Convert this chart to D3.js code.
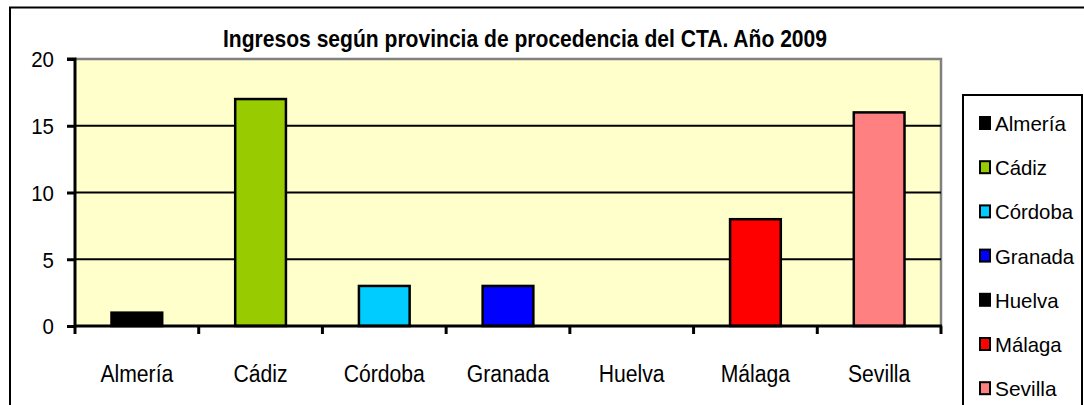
<!DOCTYPE html>
<html><head><meta charset="utf-8">
<script src="https://cdn.jsdelivr.net/npm/d3@7"></script>
<style>html,body{margin:0;padding:0;background:#fff;overflow:hidden}</style>
</head><body>
<svg id="c" width="1084" height="405"></svg>
<script>
const categories = ["Almería","Cádiz","Córdoba","Granada","Huelva","Málaga","Sevilla"];
const values = [1,17,3,3,0,8,16];
const yTicks = [0,5,10,15,20];
const barColors = ["#000000","#99CC00","#00CCFF","#0000FF","#000000","#FF0000","#FF8080"];
const title = "Ingresos según provincia de procedencia del CTA. Año 2009";

const svg = d3.select("#c");
const L = 75, R = 941, T = 59, B = 326;
const font = "Liberation Sans, Arimo, Arial, sans-serif";

function squeeze(sel, k){
  sel.each(function(){
    const w = this.getComputedTextLength();
    d3.select(this).attr("textLength", w*k).attr("lengthAdjust","spacingAndGlyphs");
  });
}

// outer border
svg.append("rect").attr("x",10).attr("y",7.5).attr("width",1200).attr("height",600)
  .attr("fill","#fff").attr("stroke","#000").attr("stroke-width",2);

const x = d3.scaleBand().domain(categories).range([L,R]).paddingInner(0.59).paddingOuter(0.295);
const y = d3.scaleLinear().domain([0,20]).range([B,T]);

svg.append("rect").attr("x",L).attr("y",T).attr("width",R-L).attr("height",B-T).attr("fill","#FFFFCC");
svg.append("path").attr("d",`M${L},${T}H${R}V${B}`).attr("fill","none").attr("stroke","#808080").attr("stroke-width",2.5);

svg.append("g").selectAll("line").data(yTicks.filter(d=>d>0 && d<20)).join("line")
  .attr("x1",L).attr("x2",R).attr("y1",d=>y(d)).attr("y2",d=>y(d))
  .attr("stroke","#000").attr("stroke-width",2);

svg.append("g").selectAll("rect").data(categories).join("rect")
  .attr("x",d=>x(d)).attr("width",x.bandwidth())
  .attr("y",(d,i)=>y(values[i])).attr("height",(d,i)=>y(0)-y(values[i]))
  .attr("fill",(d,i)=>barColors[i]).attr("stroke","#000").attr("stroke-width",2.5)
  .style("display",(d,i)=>values[i]>0?null:"none");

const yAxis = svg.append("g").attr("transform",`translate(${L},0)`)
  .call(d3.axisLeft(y).tickValues(yTicks).tickSize(8).tickPadding(13));
yAxis.attr("font-family",null).attr("font-size",null);
yAxis.select(".domain").attr("stroke-width",3).attr("d",`M-8,${T}H0V${B}`);
yAxis.selectAll(".tick line").attr("stroke-width",3);
yAxis.selectAll("text").attr("font-family",font).attr("font-size",22).attr("fill","#000").attr("dy","0.36em");
squeeze(yAxis.selectAll("text"), 0.93);

const step = x.step();
const xt = d3.range(categories.length+1).map(i=>L+i*step);
svg.append("line").attr("x1",L-1).attr("x2",R+1).attr("y1",B).attr("y2",B).attr("stroke","#000").attr("stroke-width",3);
svg.append("g").selectAll("line").data(xt).join("line")
  .attr("x1",d=>d).attr("x2",d=>d).attr("y1",B).attr("y2",B+8).attr("stroke","#000").attr("stroke-width",3);
const xl = svg.append("g").selectAll("text").data(categories).join("text")
  .attr("x",d=>x(d)+x.bandwidth()/2).attr("y",382)
  .attr("text-anchor","middle").attr("font-family",font).attr("font-size",23).attr("fill","#000")
  .text(d=>d);
squeeze(xl, 0.92);

svg.append("text").attr("x",525).attr("y",47).attr("text-anchor","middle")
  .attr("font-family","'Liberation Sans Narrow','Arial Narrow',Liberation Sans,Arial,sans-serif")
  .attr("font-weight","bold").attr("font-size",24)
  .attr("textLength",604).attr("lengthAdjust","spacingAndGlyphs")
  .text(title);

svg.append("rect").attr("x",963).attr("y",95).attr("width",119).attr("height",400)
  .attr("fill","#fff").attr("stroke","#000").attr("stroke-width",2);
const lg = svg.append("g").selectAll("g").data(categories).join("g")
  .attr("transform",(d,i)=>`translate(0,${123 + i*44.2})`);
lg.append("rect").attr("x",980).attr("y",-6).attr("width",10).attr("height",12)
  .attr("fill",(d,i)=>barColors[i]).attr("stroke","#000").attr("stroke-width",2);
const lt = lg.append("text").attr("x",995).attr("y",8).attr("font-family",font).attr("font-size",21)
  .attr("fill","#000").text(d=>d);
lt.each(function(){
  const w = this.getComputedTextLength();
  d3.select(this).attr("textLength", w*0.88 + (this.textContent.length-1)*1.2).attr("lengthAdjust","spacingAndGlyphs");
});
</script>
</body></html>
